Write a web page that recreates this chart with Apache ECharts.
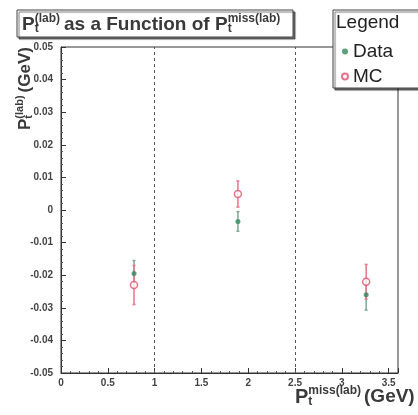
<!DOCTYPE html>
<html><head><meta charset="utf-8">
<script src="https://cdn.jsdelivr.net/npm/echarts@6/dist/echarts.min.js"></script>
<style>html,body{margin:0;padding:0;background:#fff}#c{width:418px;height:415px}</style>
</head><body><div id="c"></div>
<script>
// ---- data ----
const xPos = [0.78, 1.89, 3.26];
const dataY = [-0.0195, -0.0035, -0.026];
const dataErr = [0.004, 0.003, 0.0047];
const mcY = [-0.023, 0.0049, -0.022];
const mcErr = [0.006, 0.004, 0.0053];
const xTicks = [0, 0.5, 1, 1.5, 2, 2.5, 3, 3.5];
const yTicks = [-0.05, -0.04, -0.03, -0.02, -0.01, 0, 0.01, 0.02, 0.03, 0.04, 0.05];
const cutLines = [1, 2.5];
const seriesNames = ['Data', 'MC'];

const FONT = '"Liberation Sans", Arial, sans-serif';
const TXT = '#3a3a3a';
const GREEN = '#2e8a5c', GREEN_ERR = '#7fa893';
const RED = '#e0506a', RED_ERR = '#e8758a';

const mctx = document.createElement('canvas').getContext('2d');
function tw(t, s) { mctx.font = 'bold ' + s + 'px ' + FONT; return mctx.measureText(t).width; }

function buildLabel(segs, z) {
  const ch = []; let x = 0;
  segs.forEach(sg => {
    if (sg.t !== undefined) {
      ch.push({type: 'text', z: z, x: x, y: 0, style: {text: sg.t, font: 'bold ' + sg.s + 'px ' + FONT, fill: TXT, verticalAlign: 'middle', align: 'left'}});
      x += tw(sg.t, sg.s);
    } else {
      ch.push({type: 'text', z: z, x: x, y: sg.supDy, style: {text: sg.sup, font: 'bold ' + sg.s + 'px ' + FONT, fill: TXT, verticalAlign: 'middle', align: 'left'}});
      ch.push({type: 'text', z: z, x: x, y: sg.subDy, style: {text: sg.sub, font: 'bold ' + sg.s + 'px ' + FONT, fill: TXT, verticalAlign: 'middle', align: 'left'}});
      x += Math.max(tw(sg.sup, sg.s), tw(sg.sub, sg.s)) + (sg.after || 0);
    }
  });
  return ch;
}

function errRender(color) {
  return function (params, api) {
    const x = api.value(0), y = api.value(1), e = api.value(2);
    const lo = api.coord([x, y - e]), hi = api.coord([x, y + e]);
    const st = {stroke: color, lineWidth: 1.5};
    return {type: 'group', children: [
      {type: 'line', shape: {x1: lo[0], y1: lo[1], x2: hi[0], y2: hi[1]}, style: st},
      {type: 'line', shape: {x1: lo[0] - 1.5, y1: lo[1], x2: lo[0] + 1.5, y2: lo[1]}, style: st},
      {type: 'line', shape: {x1: hi[0] - 1.5, y1: hi[1], x2: hi[0] + 1.5, y2: hi[1]}, style: st}
    ]};
  };
}

const dataPts = xPos.map((x, i) => [x, dataY[i]]);
const mcPts = xPos.map((x, i) => [x, mcY[i]]);
const dataErrPts = xPos.map((x, i) => [x, dataY[i], dataErr[i]]);
const mcErrPts = xPos.map((x, i) => [x, mcY[i], mcErr[i]]);

const chart = echarts.init(document.getElementById('c'), null, {renderer: 'canvas'});
const fmt = v => String(Number(v.toFixed(2)));
const boxStyle = {fill: '#fff', stroke: '#444', lineWidth: 1, shadowColor: 'rgba(0,0,0,0.55)', shadowOffsetX: 2, shadowOffsetY: 2, shadowBlur: 1};

chart.setOption({
  animation: false,
  backgroundColor: '#fff',
  grid: {left: 61, right: 20, top: 47, bottom: 42, show: true, borderColor: '#333', borderWidth: 1, backgroundColor: '#fff'},
  xAxis: {
    type: 'value', min: xTicks[0], max: 3.6, interval: 0.5,
    axisLine: {onZero: false, lineStyle: {color: '#333', width: 1}},
    axisTick: {inside: true, length: 5, lineStyle: {color: '#333'}},
    minorTick: {show: true, splitNumber: 5, length: 2, lineStyle: {color: '#555'}},
    splitLine: {show: false},
    axisLabel: {fontFamily: FONT, fontWeight: 'bold', fontSize: 10, color: '#444', margin: 5, showMaxLabel: false,
      formatter: v => xTicks.indexOf(Number(v.toFixed(2))) >= 0 ? fmt(v) : ''}
  },
  yAxis: {
    type: 'value', min: yTicks[0], max: yTicks[yTicks.length - 1], interval: 0.01,
    axisLine: {show: true, onZero: false, lineStyle: {color: '#333', width: 1}},
    axisTick: {show: true, inside: true, length: 5, lineStyle: {color: '#333'}},
    minorTick: {show: true, splitNumber: 5, length: 2, lineStyle: {color: '#555'}},
    splitLine: {show: false},
    axisLabel: {fontFamily: FONT, fontWeight: 'bold', fontSize: 10, color: '#444', margin: 8, formatter: fmt}
  },
  legend: {
    z: 30,
    data: seriesNames, orient: 'vertical', left: 336, top: 37, itemWidth: 6, itemHeight: 6, itemGap: 6,
    icon: 'circle',
    textStyle: {fontFamily: FONT, fontSize: 19, color: '#222', lineHeight: 19}
  },
  series: [
    {name: 'Data', type: 'scatter', data: dataPts, symbol: 'circle', symbolSize: 5, itemStyle: {color: GREEN}, z: 5},
    {name: 'MC', type: 'scatter', data: mcPts, symbol: 'circle', symbolSize: 7, itemStyle: {color: '#fff', borderColor: RED, borderWidth: 1.5}, z: 6},
    {name: 'DataErr', type: 'custom', renderItem: errRender(GREEN_ERR), data: dataErrPts, encode: {x: 0, y: 1}, z: 3,
      markLine: {silent: true, symbol: 'none', label: {show: false},
        lineStyle: {type: [3, 3], color: '#555', width: 1},
        data: cutLines.map(v => ({xAxis: v}))}},
    {name: 'MCErr', type: 'custom', renderItem: errRender(RED_ERR), data: mcErrPts, encode: {x: 0, y: 1}, z: 3}
  ],
  graphic: [
    {type: 'rect', shape: {x: 17, y: 10, width: 276, height: 27}, style: boxStyle, z: 20},
    {type: 'group', x: 22, y: 25, z: 21, children: buildLabel([
      {t: 'P', s: 19},
      {sup: '(lab)', sub: 't', s: 12, supDy: -6, subDy: 4, after: 4},
      {t: 'as a Function of P', s: 19},
      {sup: 'miss(lab)', sub: 't', s: 12, supDy: -6, subDy: 4}
    ], 21)},
    {type: 'rect', shape: {x: 333, y: 10, width: 100, height: 78}, style: boxStyle, z: 20},
    {type: 'text', x: 336, y: 23, z: 21, style: {text: 'Legend', font: '19px ' + FONT, fill: '#222', verticalAlign: 'middle'}},
    {type: 'group', x: 295, y: 397, z: 21, children: buildLabel([
      {t: 'P', s: 20},
      {sup: 'miss(lab)', sub: 't', s: 12, supDy: -6, subDy: 5, after: 3},
      {t: '(GeV)', s: 19}
    ], 21)},
    {type: 'group', x: 25, y: 130, rotation: Math.PI / 2, z: 21, children: buildLabel([
      {t: 'P', s: 17},
      {sup: '(lab)', sub: 't', s: 11, supDy: -5, subDy: 4, after: 3},
      {t: '(GeV)', s: 17}
    ], 21)}
  ]
});
</script></body></html>
